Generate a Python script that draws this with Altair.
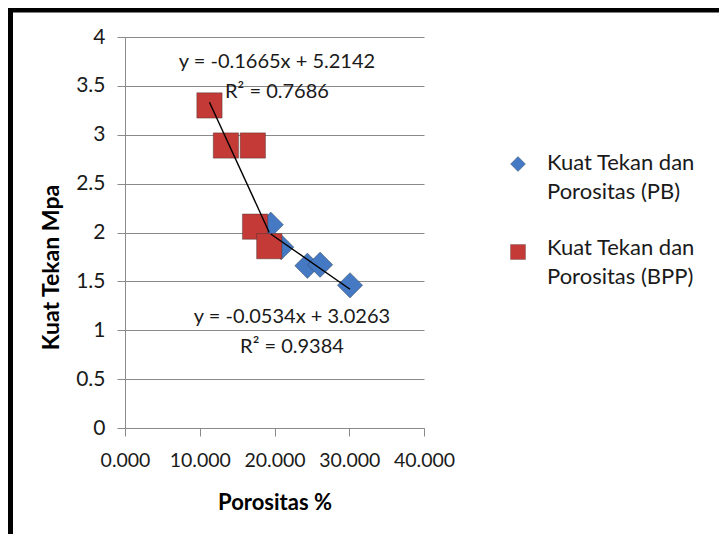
import altair as alt
import pandas as pd

# ---- data ----
series_names = ["Kuat Tekan dan Porositas (PB)", "Kuat Tekan dan Porositas (BPP)"]

pb_porositas = [19.5, 20.9, 24.4, 26.1, 30.1]
pb_kuat = [2.08, 1.85, 1.66, 1.67, 1.46]

bpp_porositas = [11.3, 13.5, 17.1, 17.4, 19.3]
bpp_kuat = [3.30, 2.89, 2.89, 2.06, 1.86]

# trendline coefficients (slope, intercept) and labels
pb_trend = (-0.0534, 3.0263)
bpp_trend = (-0.1665, 5.2142)
pb_eq = ["y = -0.0534x + 3.0263", "R² = 0.9384"]
bpp_eq = ["y = -0.1665x + 5.2142", "R² = 0.7686"]

x_ticks = [0, 10, 20, 30, 40]
y_ticks = [0, 0.5, 1, 1.5, 2, 2.5, 3, 3.5, 4]

# ---- tables ----
pts = pd.DataFrame({
    "Porositas": pb_porositas + bpp_porositas,
    "Kuat": pb_kuat + bpp_kuat,
    "Seri": [series_names[0]] * len(pb_porositas) + [series_names[1]] * len(bpp_porositas),
    "order": [0] * len(pb_porositas) + [1] * len(bpp_porositas),
})

trend_rows = []
for name, xs, (m, b) in [(series_names[0], pb_porositas, pb_trend),
                         (series_names[1], bpp_porositas, bpp_trend)]:
    for xv in (min(xs), max(xs)):
        trend_rows.append({"Porositas": xv, "Kuat": m * xv + b, "Seri": name})
trend = pd.DataFrame(trend_rows)

# annotation anchors (data coordinates, as Excel places trendline labels)
ann = pd.DataFrame({
    "text": bpp_eq + pb_eq,
    "ax": [20.33, 20.33, 22.34, 22.34],
    "ay": [3.745, 3.438, 1.136, 0.829],
})

FONT = "Lato"
TXT = "#1a1a1a"
GRID = "#8a8a8a"
BLUE = "#4579c4"
RED = "#c43a37"

xscale = alt.Scale(domain=[0, 40], nice=False, zero=False)
yscale = alt.Scale(domain=[0, 4], nice=False, zero=False)
cscale = alt.Scale(domain=series_names, range=[BLUE, RED])
sscale = alt.Scale(domain=series_names, range=["diamond", "square"])

x_enc = alt.X("Porositas:Q", scale=xscale, axis=alt.Axis(
    title="Porositas %", values=x_ticks, format=".3f", grid=False,
    labelOverlap=False, labelFlush=False,
    labelFont=FONT, labelFontSize=19.5, labelColor=TXT, labelPadding=15,
    tickSize=8, tickColor=GRID, domainColor=GRID,
    titleFont=FONT, titleFontSize=22, titleFontWeight="bold", titleColor="#000",
    titleY=81, titleBaseline="alphabetic"))
y_enc = alt.Y("Kuat:Q", scale=yscale, axis=alt.Axis(
    title="Kuat Tekan Mpa", values=y_ticks, format="~g", grid=True, gridColor=GRID,
    labelOverlap=False, labelFlush=False,
    labelFont=FONT, labelFontSize=21, labelColor=TXT, labelPadding=12,
    tickSize=8, tickColor=GRID, domainColor=GRID,
    titleFont=FONT, titleFontSize=23, titleFontWeight="bold", titleColor="#000",
    titleX=-67, titleY=230, titleBaseline="alphabetic", titleAngle=270))

points = alt.Chart(pts).mark_point(filled=True, size=640, opacity=1, stroke="#333", strokeWidth=0.4).encode(
    x=x_enc, y=y_enc,
    color=alt.Color("Seri:N", scale=cscale, legend=None),
    shape=alt.Shape("Seri:N", scale=sscale, legend=None),
    order="order:Q")

lines = alt.Chart(trend).mark_line(color="black", strokeWidth=1.4).encode(
    x="Porositas:Q", y="Kuat:Q", detail="Seri:N")

labels = alt.Chart(ann).mark_text(font=FONT, fontSize=20, color=TXT, align="center", baseline="middle").encode(
    x="ax:Q", y="ay:Q", text="text:N")

# legend (right of the plot), symbols through the same colour/shape scales
leg = pd.DataFrame({
    "Seri": series_names,
    "label": [n.replace(" Porositas", "\nPorositas") for n in series_names],
})


def legend_item(i, sym_y, txt_y):
    sym = alt.Chart(leg).mark_point(filled=True, size=225, opacity=1, stroke="#333", strokeWidth=0.3).encode(
        x=alt.value(393), y=alt.value(sym_y),
        color=alt.Color("Seri:N", scale=cscale, legend=None),
        shape=alt.Shape("Seri:N", scale=sscale, legend=None),
    ).transform_filter(alt.datum.Seri == series_names[i])
    txt = alt.Chart(leg).mark_text(font=FONT, fontSize=22, color=TXT, align="left", baseline="middle",
                                   lineBreak="\n", lineHeight=29).encode(
        x=alt.value(422), y=alt.value(txt_y), text="label:N"
    ).transform_filter(alt.datum.Seri == series_names[i])
    return [sym, txt]


legend_layers = legend_item(0, 127, 126) + legend_item(1, 215, 211)

# outer frame of the pasted chart (top and left edges visible)
frame_top = alt.Chart(pd.DataFrame({"k": [0]})).mark_rule(color="black", strokeWidth=5, clip=False).encode(
    x=alt.value(-117), x2=alt.value(600), y=alt.value(-27))
frame_left = alt.Chart(pd.DataFrame({"k": [0]})).mark_rule(color="black", strokeWidth=5, clip=False).encode(
    x=alt.value(-114.5), y=alt.value(-29), y2=alt.value(510))

chart = alt.layer(points, lines, labels, *legend_layers, frame_top, frame_left).properties(
    width=299, height=391,
    autosize=alt.AutoSizeParams(type="none"),
    padding={"left": 117, "top": 29, "right": 295, "bottom": 106},
    background="white",
).configure_view(stroke=None)

chart.save("out.html", embed_options={"renderer": "svg", "actions": False})
